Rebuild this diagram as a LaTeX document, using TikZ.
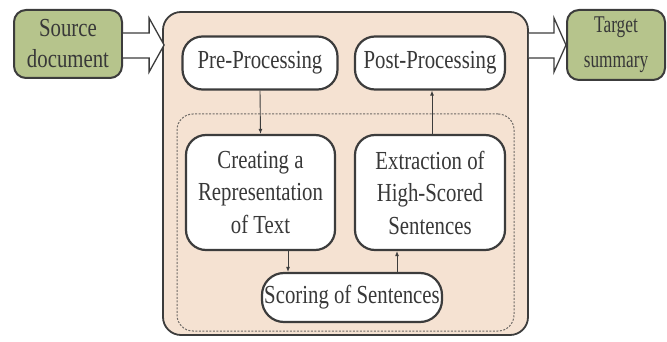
\documentclass[tikz,border=0pt]{standalone}
\usepackage{fontspec}
\setmainfont{Liberation Serif}[FakeStretch=0.8]
\newfontfamily\tsfont{Liberation Serif}[FakeStretch=0.72]
\usetikzlibrary{arrows.meta,calc}
\definecolor{txt}{HTML}{383838}
\definecolor{edge}{HTML}{3C3C3C}
\definecolor{greenfill}{HTML}{B6C48C}
\definecolor{peach}{HTML}{F5E2D2}
\definecolor{dashc}{HTML}{6E6A66}
\tikzset{
  endbox/.style={draw=edge, line width=2pt, fill=greenfill, rounded corners=12pt, align=center, text=txt, inner sep=0pt},
  stepbox/.style={draw=edge, line width=2.2pt, fill=white, rounded corners=20pt, align=center, text=txt, inner sep=0pt, font=\fontsize{26}{32.5}\selectfont},
  arr/.style={draw=edge, line width=0.9pt, -{Latex[length=5pt,width=4pt]}},
  blockarr/.style={draw=edge, line width=1.3pt, fill=white, line join=miter},
}
\begin{document}
\begin{tikzpicture}[x=1pt,y=-1pt]
\useasboundingbox (0,0) rectangle (667,342);
% main container
\node[draw=edge, line width=1.8pt, fill=peach, rounded corners=18pt, minimum width=365pt, minimum height=323pt, inner sep=0pt] (main) at (345.5,173.5) {};
% dashed inner container
\node[draw=dashc, line width=1pt, dash pattern=on 2pt off 1.5pt, rounded corners=16pt, minimum width=337pt, minimum height=217pt, inner sep=0pt] (inner) at (345.5,222.5) {};
% end boxes
\node[endbox, minimum width=108pt, minimum height=68pt, font=\fontsize{26}{31}\selectfont] (src) at (68,44) {Source\\document};
\node[endbox, minimum width=98pt, minimum height=70pt, font=\tsfont\fontsize{24}{35}\selectfont] (tgt) at (616,45) {Target\\summary};
% steps
\node[stepbox, minimum width=155pt, minimum height=53pt] (pre) at (260,63) {Pre-Processing};
\node[stepbox, minimum width=150pt, minimum height=53pt] (post) at (430,63) {Post-Processing};
\node[stepbox, minimum width=149pt, minimum height=115pt] (crt) at (260.5,192.5) {Creating a\\Representation\\of Text};
\node[stepbox, minimum width=150pt, minimum height=115pt] (ext) at (430,192.5) {Extraction of\\High-Scored\\Sentences};
\node[stepbox, minimum width=180pt, minimum height=49pt, rounded corners=22pt] (sco) at (352,297.5) {Scoring of Sentences};
% block arrows
\draw[blockarr] ($(src.east)+(0,-11)$) -- ($(main.west |- src.east)+(-13,-11)$) -- ($(main.west |- src.east)+(-13,-26)$)
  -- ($(main.west |- src.east)+(2,1)$) -- ($(main.west |- src.east)+(-13,28)$) -- ($(main.west |- src.east)+(-13,14)$) -- ($(src.east)+(0,14)$);
\draw[blockarr] ($(main.east |- tgt.west)+(0,-12)$) -- ($(tgt.west)+(-12,-12)$) -- ($(tgt.west)+(-12,-27)$)
  -- ($(tgt.west)+(0,0)$) -- ($(tgt.west)+(-12,27)$) -- ($(tgt.west)+(-12,13)$) -- ($(main.east |- tgt.west)+(0,13)$);
% connectors
\draw[arr] (pre.south) -- (crt.north);
\draw[arr] ([xshift=2pt]ext.north) -- ([xshift=2pt]post.south);
\draw[arr] ([xshift=27.5pt]crt.south) -- ([xshift=27.5pt]crt.south |- sco.north);
\draw[arr] ([xshift=-33pt]ext.south |- sco.north) -- ([xshift=-33pt]ext.south);
\end{tikzpicture}
\end{document}
